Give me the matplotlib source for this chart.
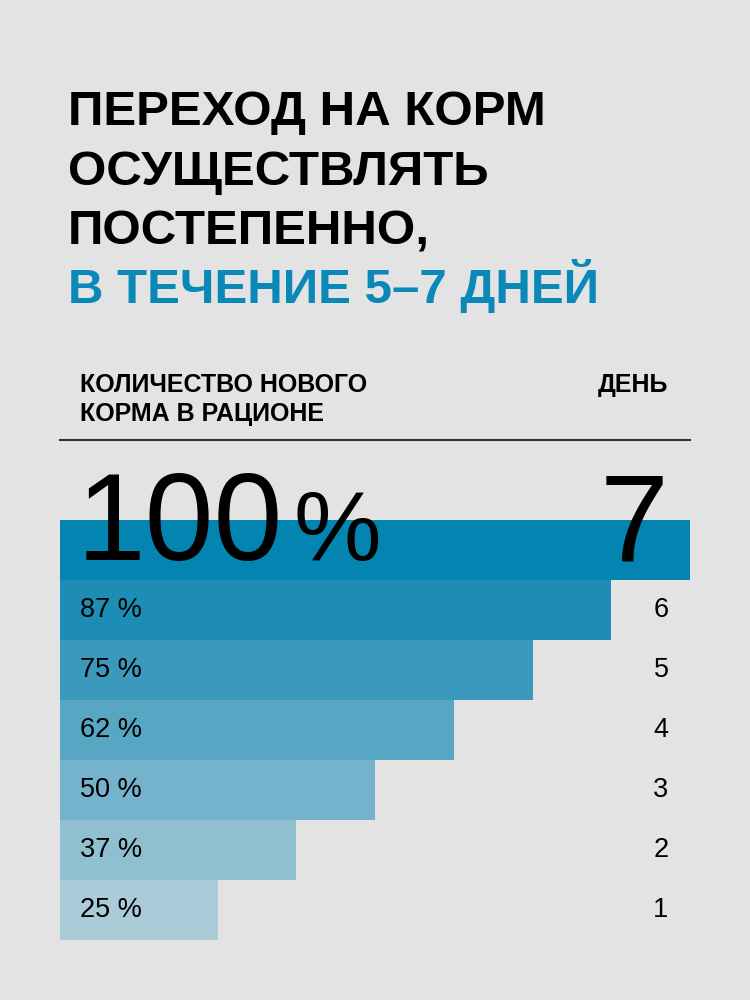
import matplotlib.pyplot as plt
from matplotlib.lines import Line2D

# Data
days = [7, 6, 5, 4, 3, 2, 1]
share = [100, 87.5, 75, 62.5, 50, 37.5, 25]   # bar lengths as drawn (steps of 1/8)
share_labels = ['100 %', '87 %', '75 %', '62 %', '50 %', '37 %', '25 %']
colors = ['#0384b1', '#1d8db6', '#3a99bc', '#57a7c4', '#74b3cb', '#90c0d0', '#a9ccd8']

title_lines = ['ПЕРЕХОД НА КОРМ', 'ОСУЩЕСТВЛЯТЬ', 'ПОСТЕПЕННО,']
title_blue = 'В ТЕЧЕНИЕ 5–7 ДНЕЙ'
left_head = ['КОЛИЧЕСТВО НОВОГО', 'КОРМА В РАЦИОНЕ']
right_head = 'ДЕНЬ'

bg = '#e3e3e3'
blue = '#0a88b8'
plt.rcParams['font.family'] = ['Liberation Sans', 'DejaVu Sans']

fig = plt.figure(figsize=(7.5, 10), dpi=100, facecolor=bg)

# Title
W, H = 750, 1000
for line, base in zip(title_lines, [125, 185, 245]):
    fig.text(68 / W, 1 - base / H, line, fontsize=35.5, fontweight='bold',
             color='black', va='baseline', ha='left')
fig.text(68 / W, 1 - 303 / H, title_blue, fontsize=35.5, fontweight='bold',
         color=blue, va='baseline', ha='left')

# Header
for line, base in zip(left_head, [392, 421]):
    fig.text(80 / W, 1 - base / H, line, fontsize=18, fontweight='bold',
             va='baseline', ha='left')
fig.text(668 / W, 1 - 392 / H, right_head, fontsize=18, fontweight='bold',
         va='baseline', ha='right')
fig.add_artist(Line2D([60 / W, 690 / W], [1 - 440 / H] * 2, color='#333333', lw=1.5))

# Bars
ax = fig.add_axes([60 / W, 1 - 940 / H, 630 / W, 420 / H])
ax.set_facecolor(bg)
ax.barh(days, share, height=1.0, color=colors, linewidth=0)
ax.set_xlim(0, 100)
ax.set_ylim(0.5, 7.5)
ax.axis('off')

tr = ax.get_yaxis_transform()
for d, lab in zip(days, share_labels):
    if d == 7:
        num, sign = lab.split(' ')
        ax.text(0.027, 6.83, num, transform=tr, fontsize=89, va='baseline',
                ha='left', clip_on=False)
        ax.text(0.51, 6.83, sign, transform=tr, fontsize=71, va='baseline',
                ha='right', clip_on=False)
        ax.text(0.966, 6.83, str(d), transform=tr, fontsize=89, va='baseline',
                ha='right', clip_on=False)
    else:
        ax.text(0.032, d, lab, transform=tr, fontsize=19.5, va='center', ha='left')
        ax.text(0.966, d, str(d), transform=tr, fontsize=19.5, va='center', ha='right')

fig.savefig('out.png', dpi=100, facecolor=bg)
